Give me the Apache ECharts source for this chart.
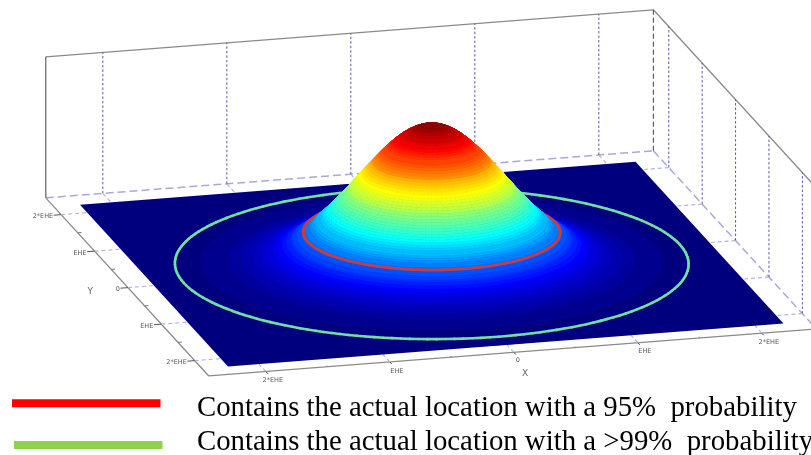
<!DOCTYPE html>
<html><head><meta charset="utf-8">
<style>html,body{margin:0;padding:0;background:#fff}#c{width:811px;height:455px}</style>
<script src="https://cdn.jsdelivr.net/npm/echarts@6/dist/echarts.min.js"></script>
</head><body><div id="c"></div>
<script>
// --- data ---
const radii   = [0,.05,.1,.15,.2,.25,.3,.35,.4,.45,.5,.55,.6,.65,.7,.75,.8,.85,.9,.95,1,1.05,1.1,1.15,1.2,1.25,1.3,1.35,1.4,1.45,1.5,1.55,1.6,1.65,1.7,1.75,1.8,1.85,1.9,1.95,2,2.05,2.1,2.15,2.2];
const heights = [.99,.986,.975,.957,.933,.903,.867,.827,.783,.735,.686,.635,.583,.531,.48,.431,.384,.34,.298,.26,.226,.195,.166,.14,.118,.098,.082,.067,.055,.044,.036,.028,.022,.018,.014,.011,.008,.006,.005,.004,.003,.002,.001,.001,0];
const contourRadii = [1, 2];
const contourHeights = [0.226, 0.003];
const contourNames = ['95%', '>99%'];
const tickValues = [-2,-1,0,1,2];
const minorTickValues = [-1.5,-.5,.5,1.5];
const xTickLabels = ['2*EHE','EHE','0','EHE','2*EHE'];
const yTickLabels = ['2*EHE','EHE','0','EHE','2*EHE'];
const legendLabels = ['Contains the actual location with a 95%  probability','Contains the actual location with a >99%  probability'];

// --- view / style ---
const V = {ox:433, oy:264, xx:124, xy:-9.6, yx:33.4, yy:36.5, zh:141,
           xMin:-2.46, xMax:2.44, yBack:-2.46, yFront:2.42, floorX:2.24, floorY:2.215, cx:-0.01};
const jetStops = [[0,0,0,127],[.125,0,0,255],[.375,0,255,255],[.625,255,255,0],[.875,255,0,0],[1,127,0,0]];
const LEVELS = 64, SUB = 3;
function jet(t){
  t = Math.round(Math.max(0,Math.min(1,t))*LEVELS)/LEVELS;
  for(let i=1;i<jetStops.length;i++){ if(t<=jetStops[i][0]){
    const a=jetStops[i-1],b=jetStops[i],f=(t-a[0])/(b[0]-a[0]);
    return 'rgb('+[1,2,3].map(k=>Math.round(a[k]+(b[k]-a[k])*f)).join(',')+')';
  }}
  return 'rgb(127,0,0)';
}
const proj=(x,y,z)=>[V.ox+x*V.xx+y*V.yx, V.oy+x*V.xy+y*V.yy-(z||0)*V.zh];
const depth=(x,y)=>(-V.yx*x+V.xx*y);
function line(api,a,b,st){const p=api.coord(proj(...a)),q=api.coord(proj(...b));
  return {type:'line',shape:{x1:p[0],y1:p[1],x2:q[0],y2:q[1]},style:Object.assign({fill:null},st)};}
function label(api,pos,dx,dy,text,font,fill,align){const p=api.coord(proj(...pos));
  return {type:'text',style:{text,x:p[0]+dx,y:p[1]+dy,font,fill,textAlign:align||'center',textVerticalAlign:'middle'}};}

const axisSt={stroke:'#8a8a8a',lineWidth:1.3};
const gridSt={stroke:'#4a4aa0',lineWidth:.9,lineDash:[2.5,2]};
const floorDash={stroke:'#a9a9d8',lineWidth:1.5,lineDash:[8,4]};
const tickDash={stroke:'#b4b4dc',lineWidth:1.2,lineDash:[4,3]};

function renderFrame(p,api){
  const c=[], {xMin,xMax,yBack,yFront,floorX,floorY}=V;
  c.push(line(api,[xMin,yBack,0],[xMax,yBack,0],floorDash));
  c.push(line(api,[xMax,yBack,0],[xMax,yFront,0],floorDash));
  c.push(line(api,[xMin,yBack,1],[xMax,yBack,1],axisSt));
  c.push(line(api,[xMax,yBack,1],[xMax,yFront,1],axisSt));
  c.push(line(api,[xMin,yBack,0],[xMin,yBack,1],{stroke:'#555',lineWidth:1.1}));
  c.push(line(api,[xMax,yBack,0],[xMax,yBack,1],{stroke:'#4a4aa0',lineWidth:1.1,lineDash:[5,3]}));
  c.push(line(api,[xMin,yBack,0],[xMin,yFront,0],axisSt));
  c.push(line(api,[xMin,yFront,0],[xMax,yFront,0],axisSt));
  tickValues.forEach((t,i)=>{
    c.push(line(api,[t,yBack,0],[t,yBack,1],gridSt));
    c.push(line(api,[xMax,t,0],[xMax,t,1],gridSt));
    c.push(line(api,[t,yBack,0],[t,-floorY,0],tickDash));
    c.push(line(api,[xMax,t,0],[floorX,t,0],tickDash));
    c.push(line(api,[xMin,t,0],[-floorX,t,0],tickDash));
    c.push(line(api,[t,yFront,0],[t,floorY,0],tickDash));
    c.push(line(api,[xMin,t,0],[xMin-.06,t,0],{stroke:'#555',lineWidth:1}));
    c.push(line(api,[t,yFront,0],[t,yFront+.06,0],{stroke:'#555',lineWidth:1}));
    c.push(label(api,[xMin,t,0],-8,2,yTickLabels[i],'6.5px "DejaVu Sans"','#555','right'));
    c.push(label(api,[t,yFront,0],i==2?4:7,i==2?8:9,xTickLabels[i],'6.5px "DejaVu Sans"','#555'));
  });
  minorTickValues.forEach(t=>{
    c.push(line(api,[xMin,t,0],[xMin+.03,t,0],{stroke:'#777',lineWidth:1}));
    c.push(line(api,[t,yFront,0],[t,yFront-.03,0],{stroke:'#777',lineWidth:1}));
  });
  c.push(label(api,[xMin,0.1,0],-41,0,'Y','9px "DejaVu Sans"','#666'));
  c.push(label(api,[0.05,yFront,0],5,22,'X','9px "DejaVu Sans"','#666'));
  return {type:'group',children:c};
}

function renderSurface(p,api){
  const items=[], N=96;
  const FX=V.floorX,FY=V.floorY,cx=V.cx;
  const poly=(pts,style)=>({type:'polygon',shape:{points:pts.map(q=>api.coord(proj(...q)))},style});
  const base=poly([[cx-FX,-FY,0],[cx+FX,-FY,0],[cx+FX,FY,0],[cx-FX,FY,0]],{fill:'#00007f'});
  for(let i=0;i<radii.length-1;i++){
    for(let s=0;s<SUB;s++){
      const f0=s/SUB,f1=(s+1)/SUB;
      const r0=radii[i]+(radii[i+1]-radii[i])*f0,r1=radii[i]+(radii[i+1]-radii[i])*f1;
      const z0=heights[i]+(heights[i+1]-heights[i])*f0,z1=heights[i]+(heights[i+1]-heights[i])*f1;
      const col=jet((z0+z1)/2);
      for(let k=0;k<N;k++){
        const a0=k/N*2*Math.PI,a1=(k+1)/N*2*Math.PI,cc=[Math.cos(a0),Math.sin(a0),Math.cos(a1),Math.sin(a1)];
        const pts=[[cx+r0*cc[0],r0*cc[1],z0],[cx+r1*cc[0],r1*cc[1],z1],[cx+r1*cc[2],r1*cc[3],z1],[cx+r0*cc[2],r0*cc[3],z0]];
        const rm=(r0+r1)/2,am=(a0+a1)/2;
        items.push({d:depth(rm*Math.cos(am),rm*Math.sin(am)),el:poly(pts,{fill:col,stroke:col,lineWidth:.7})});
      }
    }
  }
  contourRadii.forEach((R,j)=>{
    const col=j==0?'#cf3a3c':'#72e0a0', M=180;
    for(let k=0;k<M;k++){
      const a0=k/M*2*Math.PI,a1=(k+1)/M*2*Math.PI;
      const A=[cx+R*Math.cos(a0),R*Math.sin(a0),contourHeights[j]],B=[cx+R*Math.cos(a1),R*Math.sin(a1),contourHeights[j]];
      const am=(a0+a1)/2;
      items.push({d:depth(R*Math.cos(am),R*Math.sin(am))+20,el:line(api,A,B,{stroke:col,lineWidth:2.6,lineCap:'round'})});
    }
  });
  items.sort((a,b)=>a.d-b.d);
  return {type:'group',children:[base].concat(items.map(x=>x.el))};
}

function renderLegend(p,api){
  const i=p.dataIndex, cols=['#ff0000','#92d050'];
  const a=api.coord(i==0?[12,403.3]:[14,445]), b=api.coord(i==0?[160.5,403.3]:[162.5,445]), t=api.coord(i==0?[197,408.5]:[197,442.5]);
  return {type:'group',children:[
    {type:'line',shape:{x1:a[0],y1:a[1],x2:b[0],y2:b[1]},style:{stroke:cols[i],lineWidth:8}},
    {type:'text',style:{text:legendLabels[i],x:t[0],y:t[1],font:'28.8px "Liberation Serif"',fill:'#000',textAlign:'left',textVerticalAlign:'middle'}}
  ]};
}

const chart=echarts.init(document.getElementById('c'));
chart.setOption({
  animation:false,
  backgroundColor:'#fff',
  grid:{left:0,right:0,top:0,bottom:0},
  xAxis:{type:'value',min:0,max:811,show:false},
  yAxis:{type:'value',min:0,max:455,inverse:true,show:false},
  series:[
    {type:'custom',name:'frame',coordinateSystem:'cartesian2d',silent:true,renderItem:renderFrame,data:[0]},
    {type:'custom',name:'surface',coordinateSystem:'cartesian2d',silent:true,renderItem:renderSurface,data:[0]},
    {type:'custom',name:'legend',coordinateSystem:'cartesian2d',silent:true,renderItem:renderLegend,data:contourNames.map((n,i)=>i)}
  ]
});
</script></body></html>
